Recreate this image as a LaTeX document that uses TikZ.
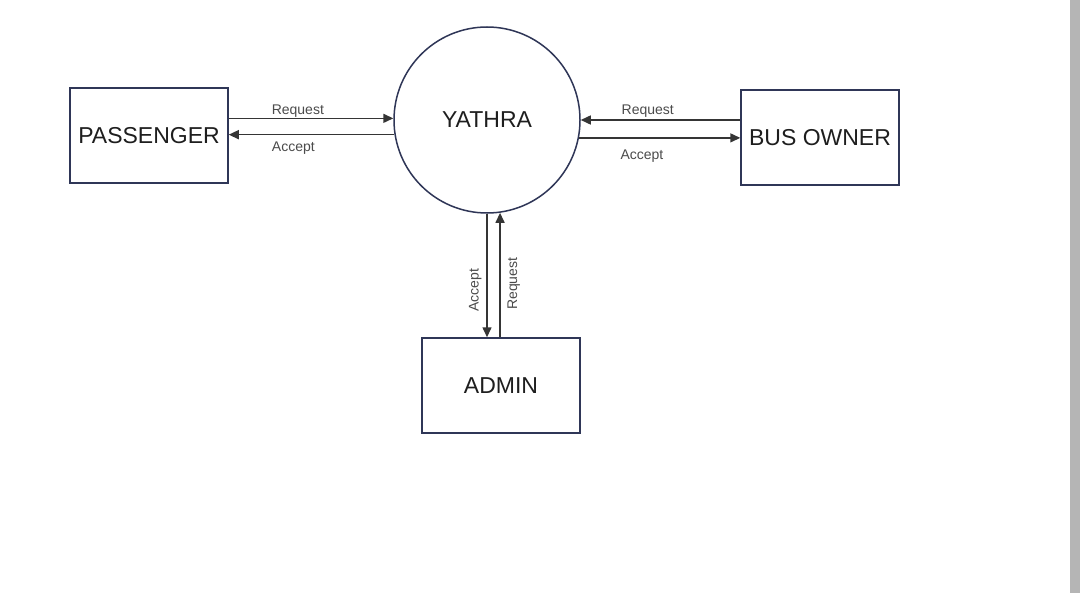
\documentclass[tikz,border=0pt]{standalone}
\usepackage{fontspec}
\setmainfont{Liberation Sans}
\usetikzlibrary{arrows.meta}
\definecolor{rim}{HTML}{2F3657}
\definecolor{ink}{HTML}{1E1E1E}
\def\flow{\draw[ink!90,line width=0.75pt,-{Triangle[length=5pt,width=4.5pt]}]}

\begin{document}
\begin{tikzpicture}[x=0.5pt,y=-0.5pt,
    entity/.style={draw=rim,line width=0.75pt,minimum width=79pt,minimum height=47.5pt,
      font=\fontsize{11.5}{13}\selectfont,text=ink},
    lbl/.style={font=\fontsize{7}{8}\selectfont,text=ink!80}]
  \useasboundingbox (0,0) rectangle (1080,593);
  \fill[white] (0,0) rectangle (1080,593);
  \fill[black!29] (1070,0) rectangle (1080,593);
  % external entities and the process
  \node[entity] (pass) at (149,135.5) {PASSENGER};
  \node[entity] (owner) at (820,137.5) {BUS OWNER};
  \node[entity] (admin) at (501,385.5) {ADMIN};
  \node[circle,draw=rim,line width=0.75pt,minimum size=93pt,inner sep=0pt,
    font=\fontsize{11.5}{13}\selectfont,text=ink] (yathra) at (487,120) {YATHRA};
  % data flows
  \flow (yathra.179 -| pass.east) -- node[lbl,above=-3pt,pos=0.42]{Request} (yathra.179);
  \flow (yathra.189) -- node[lbl,below,pos=0.61]{Accept} (yathra.189 -| pass.east);
  \flow (yathra.0 -| owner.west) -- node[lbl,above=-2.5pt,pos=0.58]{Request} (yathra.0);
  \flow (yathra.349) -- node[lbl,below=2.5pt,pos=0.39]{Accept} (yathra.349 -| owner.west);
  \flow (yathra.270) -- node[lbl,rotate=90,above=-1pt,pos=0.62]{Accept} (yathra.270 |- admin.north);
  \flow (yathra.278 |- admin.north) -- node[lbl,rotate=90,below,pos=0.43]{Request} (yathra.278);
\end{tikzpicture}
\end{document}
